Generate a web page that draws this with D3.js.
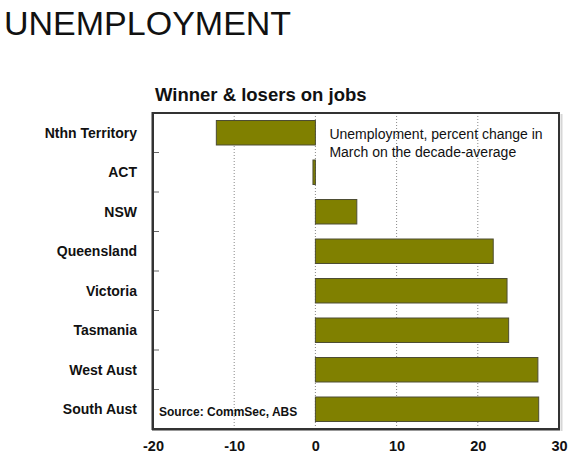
<!DOCTYPE html>
<html lang="en">
<meta charset="utf-8">
<script src="https://d3js.org/d3.v7.min.js"></script>
<style>
  body { margin: 0; background: #fff; overflow: hidden; }
  svg { display: block; }
  text { font-family: "Liberation Sans", Arial, sans-serif; }
</style>
<div id="my_dataviz"></div>
<script>

// data
var states = ["Nthn Territory", "ACT", "NSW", "Queensland", "Victoria", "Tasmania", "West Aust", "South Aust"];
var changes = [-12.2, -0.3, 5.1, 21.9, 23.6, 23.8, 27.4, 27.5];
var xTicks = [-20, -10, 0, 10, 20, 30];

var W = 580, H = 466;
var margin = {top: 113, right: 21, bottom: 37, left: 153},
  width = W - margin.left - margin.right,
  height = H - margin.top - margin.bottom;

var root = d3.select("#my_dataviz")
  .append("svg")
    .attr("width", W)
    .attr("height", H);

// big page heading
root.append("text")
  .attr("x", 4)
  .attr("y", 35)
  .style("font-size", "34px")
  .style("fill", "#111")
  .text("UNEMPLOYMENT");

// chart title
root.append("text")
  .attr("x", 155)
  .attr("y", 101)
  .style("font-size", "18.5px")
  .style("font-weight", "bold")
  .style("fill", "#111")
  .text("Winner & losers on jobs");

var svg = root.append("g")
  .attr("transform", "translate(" + margin.left + "," + margin.top + ")");

var x = d3.scaleLinear()
  .domain([-20, 30])
  .range([0, width]);

var y = d3.scaleBand()
  .domain(states)
  .range([0, height])
  .paddingInner(0.38)
  .paddingOuter(0.19);

// dotted grid lines
svg.selectAll(".grid")
  .data(xTicks.filter(function(d) { return d > -20 && d < 30; }))
  .enter()
  .append("line")
    .attr("x1", function(d) { return x(d); })
    .attr("x2", function(d) { return x(d); })
    .attr("y1", 0)
    .attr("y2", height)
    .attr("stroke", "#888")
    .attr("stroke-width", 1)
    .attr("stroke-dasharray", "1,2");

// bars
svg.selectAll(".bar")
  .data(states)
  .enter()
  .append("rect")
    .attr("x", function(d, i) { return x(Math.min(0, changes[i])); })
    .attr("y", function(d) { return y(d); })
    .attr("width", function(d, i) { return Math.abs(x(changes[i]) - x(0)); })
    .attr("height", y.bandwidth())
    .attr("fill", "#808000")
    .attr("stroke", "#4d4d33")
    .attr("stroke-width", 1);

// category ticks at band boundaries
var step = y.step();
svg.selectAll(".ytick")
  .data(states.slice(1))
  .enter()
  .append("line")
    .attr("x1", 0)
    .attr("x2", 6)
    .attr("y1", function(d) { return y(d) - step * 0.19; })
    .attr("y2", function(d) { return y(d) - step * 0.19; })
    .attr("stroke", "#666")
    .attr("stroke-width", 1);

// category labels
svg.selectAll(".ylab")
  .data(states)
  .enter()
  .append("text")
    .attr("x", -16)
    .attr("y", function(d) { return y(d) + y.bandwidth() / 2; })
    .attr("dy", "0.35em")
    .attr("text-anchor", "end")
    .style("font-size", "14px")
    .style("font-weight", "bold")
    .style("fill", "#111")
    .text(function(d) { return d; });

// x axis labels (plain hyphen minus like the original)
var xAxis = svg.append("g")
  .attr("transform", "translate(0," + height + ")")
  .call(d3.axisBottom(x).tickValues(xTicks).tickSize(0).tickPadding(12)
    .tickFormat(function(d) { return String(d); }));
xAxis.select(".domain").remove();
xAxis.selectAll("text")
  .style("font-family", "'Liberation Sans', Arial, sans-serif")
  .style("font-size", "14.5px")
  .style("font-weight", "bold")
  .style("fill", "#111");

// note
var note = svg.append("text")
  .attr("x", x(0) + 14)
  .attr("y", 26)
  .style("font-size", "14px")
  .style("fill", "#111");
note.append("tspan").attr("x", x(0) + 14).attr("dy", 0).text("Unemployment, percent change in");
note.append("tspan").attr("x", x(0) + 14).attr("dy", "1.28em").text("March on the decade-average");

// source
svg.append("text")
  .attr("x", 6)
  .attr("y", height - 13)
  .style("font-size", "12px")
  .style("font-weight", "bold")
  .style("fill", "#111")
  .text("Source: CommSec, ABS");

// frame, drawn last on top of everything
var fx0 = margin.left + x.range()[0], fx1 = margin.left + x.range()[1];
var fy0 = margin.top + y.range()[0], fy1 = margin.top + y.range()[1];
root.append("rect")
  .attr("x", fx1 + 1.5)
  .attr("y", fy0 + 1)
  .attr("width", 2)
  .attr("height", fy1 - fy0 + 1)
  .attr("fill", "#d6d6d6");
var frame = root.append("g").attr("fill", "#333");
frame.append("rect").attr("x", fx0 - 1).attr("y", fy0 - 1).attr("width", fx1 - fx0 + 2).attr("height", 2);
frame.append("rect").attr("x", fx0 - 1).attr("y", fy1 - 1).attr("width", fx1 - fx0 + 2).attr("height", 2.5);
frame.append("rect").attr("x", fx0 - 1.5).attr("y", fy0 - 1).attr("width", 2.5).attr("height", fy1 - fy0 + 2);
frame.append("rect").attr("x", fx1 - 1).attr("y", fy0 - 1).attr("width", 2).attr("height", fy1 - fy0 + 2);

</script>
</html>
